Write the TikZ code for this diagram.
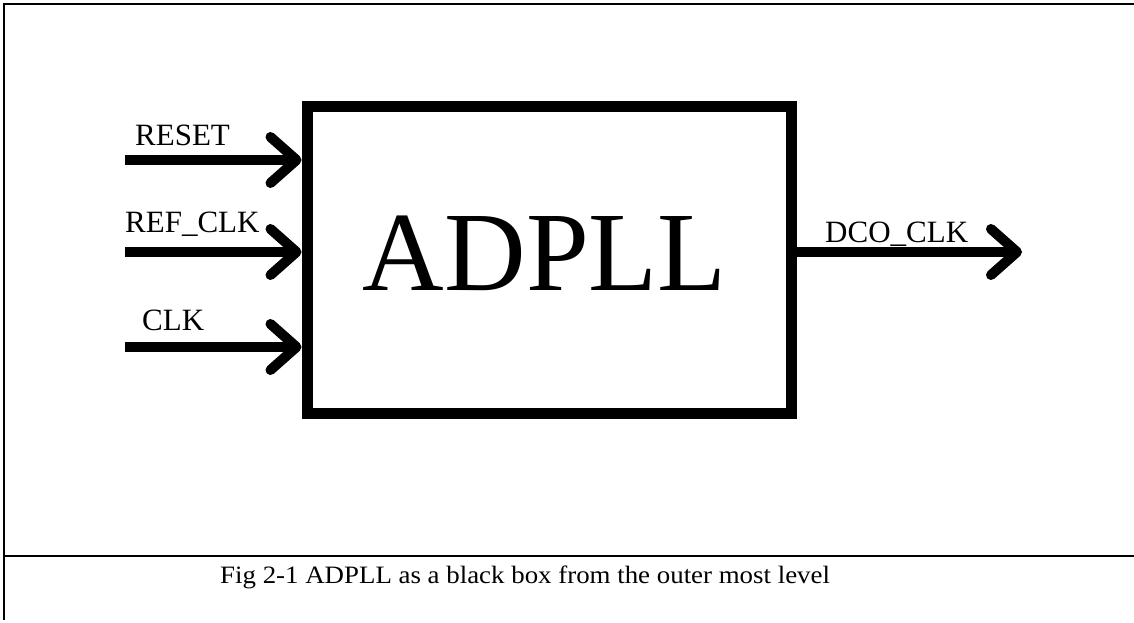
\documentclass[tikz,border=0pt]{standalone}
\usepackage{fontspec}
\setmainfont{Liberation Serif}
\usetikzlibrary{arrows.meta}
\begin{document}
\begin{tikzpicture}[x=1pt,y=1pt,
  frame/.style={line width=2.5pt, line cap=butt},
  block/.style={draw, line width=11pt, minimum width=484pt, minimum height=307pt,
    inner sep=0pt, outer sep=5.5pt},
  signal/.style={line width=10pt, -{Straight Barb[length=26pt, width=46pt, round]}},
  pinlabel/.style={font=\fontsize{31}{31}\selectfont, anchor=base west, inner sep=0pt}
]
\useasboundingbox (0,0) rectangle (1134,-623);

% page frame and caption divider
\draw[frame] (4,-620) -- (4,-4) -- (1134,-4);
\draw[frame] (4,-556) -- (1134,-556);

% the ADPLL block
\node[block] (adpll) at (549,-260) {};
\node[font=\fontsize{113}{113}\selectfont, anchor=base, inner sep=0pt] (title) at (545,-290) {ADPLL};

% input signals
\coordinate (rst) at (125,-160);
\coordinate (ref) at (125,-252);
\coordinate (clk) at (125,-347);
\draw[signal] (rst) -- (rst -| adpll.west);
\draw[signal] (ref) -- (ref -| adpll.west);
\draw[signal] (clk) -- (clk -| adpll.west);
\node[pinlabel] (lrst) at (135,-145) {RESET};
\node[pinlabel] (lref) at (125,-232) {REF\_CLK};
\node[pinlabel] (lclk) at (142,-330) {CLK};

% output signal
\coordinate (dco) at (1022,-252);
\draw[signal] (dco -| adpll.east) -- (dco);
\node[pinlabel] (ldco) at (825,-242) {DCO\_CLK};

% caption
\node[font=\fontsize{25}{25}\selectfont, anchor=base west, inner sep=0pt, xscale=1.075] (caption) at (220,-583)
  {Fig 2-1 ADPLL as a black box from the outer most level};
\end{tikzpicture}
\end{document}
